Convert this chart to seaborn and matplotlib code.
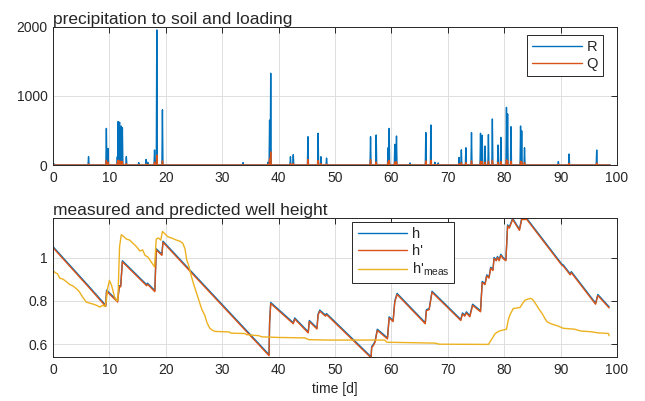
import numpy as np
import pandas as pd
import matplotlib
matplotlib.use("Agg")
import matplotlib.pyplot as plt
from matplotlib.ticker import FormatStrFormatter
import seaborn as sns

# -------------------------------
# 1. Data
# -------------------------------
# rain events: time [d], precipitation to soil R, loading Q
rain_t = [0.1, 6.3, 9.46, 9.75, 11.4, 11.55, 11.8, 12.1, 12.3, 13.0, 15.2, 16.5, 16.8,
          18.0, 18.4, 19.4, 33.7, 38.1, 38.4, 38.6, 42.1, 42.6, 45.2, 47.0, 47.5, 48.5,
          56.3, 57.3, 59.4, 59.6, 60.6, 60.9, 63.3, 66.1, 67.0, 67.7, 68.3, 72.0, 72.4,
          73.2, 74.2, 75.8, 76.1, 76.6, 77.2, 77.9, 78.9, 79.4, 80.4, 80.6, 81.2, 82.9,
          83.1, 83.6, 89.6, 91.5, 96.4]
rain_R = [25, 120, 530, 240, 120, 630, 620, 565, 540, 120, 35, 80, 40,
          217, 1957, 800, 35, 40, 650, 1330, 120, 150, 410, 460, 120, 100,
          410, 435, 250, 530, 300, 420, 30, 470, 580, 40, 30, 110, 220,
          250, 470, 460, 430, 275, 440, 667, 290, 400, 835, 740, 555, 565,
          495, 250, 50, 160, 217]
rain_Q = [5, 15, 70, 40, 30, 70, 60, 55, 50, 20, 5, 15, 8,
          40, 145, 60, 5, 10, 90, 190, 20, 25, 80, 65, 20, 15,
          80, 45, 40, 70, 45, 50, 5, 60, 70, 8, 5, 20, 35,
          35, 60, 55, 50, 40, 55, 70, 40, 50, 75, 65, 55, 55,
          50, 35, 8, 25, 30]
t_end = 98.8

# predicted well height h and h' (same breakpoints)
h_t = [0, 6.2, 9.35, 9.5, 11.45, 11.75, 12.0, 12.3, 16.6, 16.75, 18.05, 18.3, 19.3, 19.5,
       38.3, 38.4, 38.6, 42.6, 42.85, 45.25, 45.45, 46.8, 47.0, 47.3, 48.3, 48.5, 56.4,
       56.5, 56.8, 57.1, 57.5, 59.3, 59.6, 60.3, 60.6, 61.0, 66.0, 66.2, 66.7, 67.2,
       72.3, 72.6, 73.0, 73.3, 73.9, 74.4, 75.8, 76.1, 76.6, 76.9, 77.3, 77.6, 78.0,
       78.2, 78.6, 78.8, 79.1, 79.4, 79.8, 80.3, 80.6, 80.9, 81.2, 81.5, 82.7, 83.1,
       84.0, 90.2, 90.5, 91.7, 91.9, 96.2, 96.6, 98.6]
h_v = [1.05, 0.872, 0.78, 0.85, 0.80, 0.87, 0.87, 0.985, 0.875, 0.882, 0.848, 1.04, 1.015, 1.075,
       0.553, 0.70, 0.793, 0.70, 0.722, 0.658, 0.71, 0.676, 0.74, 0.758, 0.735, 0.742, 0.543,
       0.59, 0.60, 0.615, 0.67, 0.63, 0.727, 0.71, 0.80, 0.835, 0.70, 0.76, 0.765, 0.845,
       0.715, 0.745, 0.735, 0.75, 0.732, 0.785, 0.755, 0.89, 0.88, 0.92, 0.91, 0.955, 0.945,
       1.0, 0.99, 1.005, 0.99, 1.015, 1.0, 0.99, 1.15, 1.14, 1.16, 1.18, 1.13, 1.18,
       1.18, 0.97, 0.965, 0.925, 0.935, 0.79, 0.83, 0.773]
hp_v = [1.045, 0.867, 0.775, 0.845, 0.795, 0.865, 0.865, 0.98, 0.87, 0.877, 0.843, 1.035, 1.01, 1.07,
        0.548, 0.695, 0.788, 0.695, 0.717, 0.653, 0.705, 0.671, 0.735, 0.753, 0.73, 0.737, 0.538,
        0.585, 0.595, 0.61, 0.665, 0.625, 0.722, 0.705, 0.795, 0.83, 0.695, 0.755, 0.76, 0.84,
        0.71, 0.74, 0.73, 0.745, 0.727, 0.78, 0.75, 0.885, 0.875, 0.915, 0.905, 0.95, 0.94,
        0.995, 0.985, 1.0, 0.985, 1.01, 0.995, 0.985, 1.145, 1.135, 1.155, 1.175, 1.125, 1.175,
        1.175, 0.965, 0.96, 0.92, 0.93, 0.785, 0.825, 0.768]

# measured well height
hm_t = [0, 0.4, 0.8, 1.2, 1.8, 2.4, 3.0, 3.5, 4.1, 4.6, 5.2, 5.9, 6.5, 7.2, 7.7, 8.3, 8.8, 9.2,
        9.45, 9.7, 10.0, 10.4, 10.9, 11.3, 11.5, 11.8, 12.1, 12.6, 13.0, 13.6, 14.2, 14.8,
        15.4, 15.9, 16.3, 16.8, 17.4, 18.0, 18.3, 18.7, 19.1, 19.4, 19.8, 20.4, 21.0, 21.9,
        22.5, 23.0, 23.4, 23.7, 24.1, 24.4, 24.9, 25.4, 25.9, 26.4, 26.9, 27.3, 27.8, 28.3,
        28.7, 31.3, 31.5, 34.0, 34.3, 36.5, 37.0, 40.0, 44.7, 45.3, 48.8, 53.5, 58.8, 59.2,
        67.7, 68.5, 77.2, 77.8, 78.4, 79.0, 79.6, 80.4, 80.7, 81.0, 81.6, 82.8, 83.3, 83.7,
        84.6, 85.0, 85.5, 86.1, 86.7, 87.2, 87.6, 88.3, 89.0, 89.5, 90.5, 91.5, 92.5, 93.5,
        95.5, 96.2, 96.7, 97.5, 98.5, 98.6]
hm_v = [0.94, 0.93, 0.925, 0.905, 0.90, 0.888, 0.875, 0.87, 0.857, 0.845, 0.82, 0.795, 0.79,
        0.785, 0.78, 0.772, 0.78, 0.775, 0.80, 0.86, 0.895, 0.87, 0.82, 0.80, 0.805, 1.05, 1.105,
        1.095, 1.085, 1.08, 1.065, 1.05, 1.03, 1.035, 1.01, 1.003, 0.98, 0.957, 1.085, 1.09,
        1.08, 1.12, 1.11, 1.095, 1.09, 1.08, 1.075, 1.066, 1.04, 0.99, 0.96, 0.926, 0.88, 0.84,
        0.80, 0.76, 0.735, 0.70, 0.674, 0.665, 0.66, 0.657, 0.652, 0.65, 0.645, 0.64, 0.635,
        0.632, 0.63, 0.622, 0.62, 0.62, 0.62, 0.61, 0.606, 0.601, 0.60, 0.625, 0.65, 0.66,
        0.665, 0.67, 0.71, 0.735, 0.765, 0.77, 0.79, 0.804, 0.812, 0.808, 0.79, 0.765, 0.743,
        0.72, 0.704, 0.695, 0.689, 0.685, 0.674, 0.672, 0.67, 0.662, 0.658, 0.655, 0.653,
        0.652, 0.65, 0.64]

x_ticks = [0, 10, 20, 30, 40, 50, 60, 70, 80, 90, 100]
top_ticks = [0, 1000, 2000]
bot_ticks = [0.6, 0.8, 1.0]


# build spike polylines (zero baseline between events)
def spikes(times, values, t_stop, half_width=0.09):
    xs, ys = [0.0], [0.0]
    for t, v in zip(times, values):
        xs += [t - half_width, t, t + half_width]
        ys += [0.0, v, 0.0]
    xs.append(t_stop)
    ys.append(0.0)
    return pd.DataFrame({'t': xs, 'v': ys})


rain_R_df = spikes(rain_t, rain_R, t_end)
rain_Q_df = spikes(rain_t, rain_Q, t_end)
wells = pd.DataFrame({'t': h_t, 'h': h_v, 'hp': hp_v})
meas = pd.DataFrame({'t': hm_t, 'hm': hm_v})

# -------------------------------
# 2. Style (MATLAB-like)
# -------------------------------
sns.set_style("white")
plt.rcParams['font.family'] = ['Liberation Sans', 'DejaVu Sans']
plt.rcParams['mathtext.fontset'] = 'custom'
plt.rcParams['mathtext.rm'] = 'Liberation Sans'
plt.rcParams['mathtext.it'] = 'Liberation Sans'
plt.rcParams['font.size'] = 10

blue = '#0072BD'
orange = '#D95319'
yellow = '#EDB120'

fig = plt.figure(figsize=(6.45, 4.01), dpi=100)
ax1 = fig.add_axes([0.0822, 0.5885, 0.8744, 0.3442])
ax2 = fig.add_axes([0.0822, 0.1097, 0.8744, 0.3467])

# -------------------------------
# 3. Top: precipitation and loading
# -------------------------------
sns.lineplot(data=rain_R_df, x='t', y='v', ax=ax1, color=blue, lw=1.0,
             estimator=None, sort=False, label='R')
sns.lineplot(data=rain_Q_df, x='t', y='v', ax=ax1, color=orange, lw=1.0,
             estimator=None, sort=False, label='Q')
ax1.set_xlim(0, 100)
ax1.set_ylim(0, 2000)
ax1.set_yticks(top_ticks)
ax1.set_title('precipitation to soil and loading', loc='left', fontsize=12.5, pad=2)

# -------------------------------
# 4. Bottom: well height
# -------------------------------
sns.lineplot(data=wells, x='t', y='h', ax=ax2, color=blue, lw=1.0,
             estimator=None, sort=False, label='h')
sns.lineplot(data=wells, x='t', y='hp', ax=ax2, color=orange, lw=1.0,
             estimator=None, sort=False, label="h'")
sns.lineplot(data=meas, x='t', y='hm', ax=ax2, color=yellow, lw=1.0,
             estimator=None, sort=False, label=r"h'$_{\mathrm{meas}}$")
ax2.set_xlim(0, 100)
ax2.set_ylim(0.542, 1.182)
ax2.set_yticks(bot_ticks)
ax2.yaxis.set_major_formatter(FormatStrFormatter('%g'))
ax2.set_title('measured and predicted well height', loc='left', fontsize=12.5, pad=2)
ax2.set_xlabel('time [d]')

for ax in (ax1, ax2):
    ax.set_xticks(x_ticks)
    ax.set_ylabel('')
    ax.grid(True, color='#DFDFDF', lw=0.7)
    ax.set_axisbelow(True)
    for s in ax.spines.values():
        s.set_color('#262626')
        s.set_linewidth(0.7)
    ax.tick_params(direction='in', length=4, width=0.7, color='#262626',
                   top=True, right=True, labelsize=10, pad=4)
    if ax is ax1:
        ax.set_xlabel('')

leg1 = ax1.legend(loc='upper right', bbox_to_anchor=(0.975, 0.942), borderaxespad=0,
                  fancybox=False, edgecolor='#262626', framealpha=1, handlelength=3.4,
                  handletextpad=0.3, borderpad=0.35, labelspacing=0.2, fontsize=10.5)
leg1.get_frame().set_linewidth(0.7)
leg2 = ax2.legend(loc='upper left', bbox_to_anchor=(0.531, 0.973), borderaxespad=0,
                  fancybox=False, edgecolor='#262626', framealpha=1, handlelength=3.4,
                  handletextpad=0.3, borderpad=0.35, labelspacing=0.2, fontsize=10.5)
leg2.get_frame().set_linewidth(0.7)

fig.savefig('out.png', dpi=100)
plt.close(fig)
